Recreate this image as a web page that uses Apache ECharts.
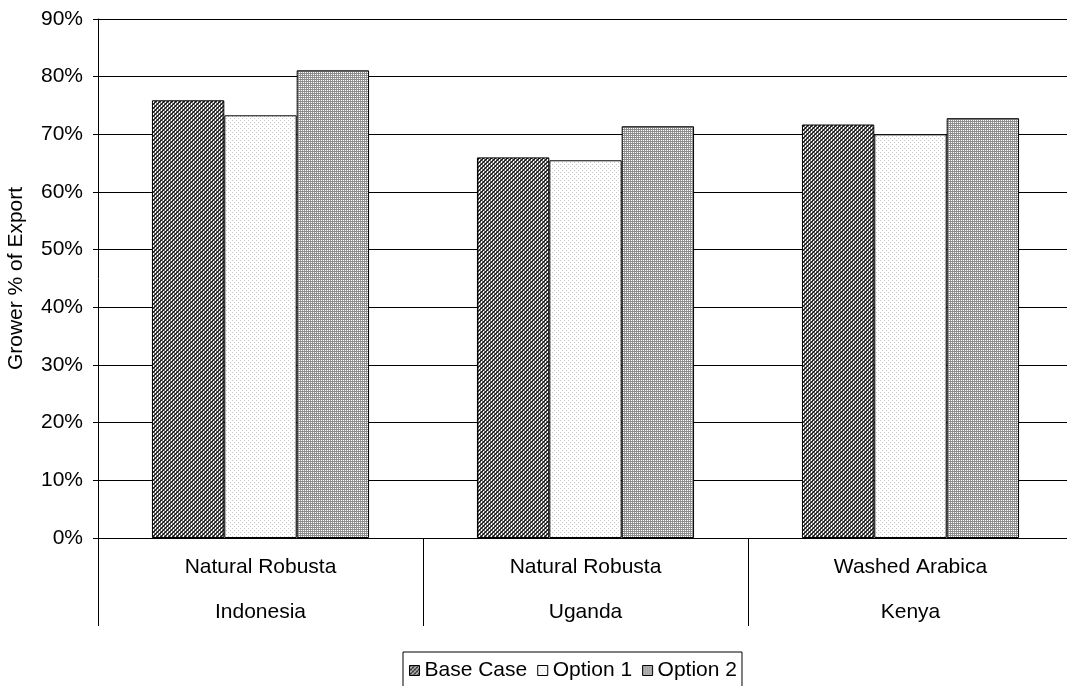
<!DOCTYPE html>
<html>
<head>
<meta charset="utf-8">
<script src="https://cdn.jsdelivr.net/npm/echarts@6/dist/echarts.min.js"></script>
<style>
  html, body { margin: 0; padding: 0; background: #fff; }
  #chart { width: 1067px; height: 686px; }
</style>
</head>
<body>
<div id="chart"></div>
<script>
// Grower share of export price, by origin and coffee type
const countries = ['Indonesia', 'Uganda', 'Kenya'];
const coffeeTypes = ['Natural Robusta', 'Natural Robusta', 'Washed Arabica'];
const seriesNames = ['Base Case', 'Option 1', 'Option 2'];
const baseCase = [75.9, 66.0, 71.7];
const option1 = [73.3, 65.5, 70.0];
const option2 = [81.1, 71.4, 72.8];
const yTicks = { min: 0, max: 90, interval: 10 };

const FONT = '"Liberation Sans", Arial, sans-serif';
const FS = 21;

// Small repeating fills in the style of old office-chart patterns
function tile(size, paint) {
  const c = document.createElement('canvas');
  c.width = c.height = size;
  const ctx = c.getContext('2d');
  ctx.fillStyle = '#fff';
  ctx.fillRect(0, 0, size, size);
  for (let y = 0; y < size; y++) {
    for (let x = 0; x < size; x++) {
      const col = paint(x, y);
      if (col) { ctx.fillStyle = col; ctx.fillRect(x, y, 1, 1); }
    }
  }
  return { image: c, repeat: 'repeat' };
}

// dense "/" hatching
const hatch = tile(4, (x, y) => ((x + y) % 4 < 2 ? '#2a2a2a' : (x % 2 === 0 ? '#8a8a8a' : null)));
// sparse light dots
const dots = tile(4, (x, y) => ((x % 4 === 0 && y % 4 === 0) || (x % 4 === 2 && y % 4 === 2) ? '#c4c4c4' : null));
// grey weave
const weave = tile(4, (x, y) => {
  if (y % 2 === 1) return '#8a8a8a';
  return x % 2 === 0 ? '#9a9a9a' : null;
});

const fills = [hatch, dots, weave];
const values = [baseCase, option1, option2];

const chart = echarts.init(document.getElementById('chart'), null, { renderer: 'canvas' });

chart.setOption({
  animation: false,
  backgroundColor: '#fff',
  textStyle: { fontFamily: FONT, color: '#000' },
  grid: {
    left: 98, top: 19, right: -6, bottom: 148,
    containLabel: false,
    outerBoundsMode: 'none'
  },
  legend: {
    left: 403,
    top: 652,
    orient: 'horizontal',
    itemWidth: 10,
    itemHeight: 10,
    itemGap: 10,
    padding: [8, 5, 30, 6],
    borderColor: '#000',
    borderWidth: 1,
    backgroundColor: '#fff',
    icon: 'rect',
    itemStyle: { borderColor: '#000', borderWidth: 1 },
    textStyle: { fontFamily: FONT, fontSize: FS, color: '#000' },
    data: seriesNames
  },
  xAxis: {
    type: 'category',
    data: countries,
    axisLine: { show: true, lineStyle: { color: '#000', width: 1 } },
    axisTick: {
      show: true,
      alignWithLabel: false,
      interval: 0,
      length: 88,
      lineStyle: { color: '#000', width: 1 }
    },
    axisLabel: {
      interval: 0,
      margin: 7,
      fontFamily: FONT,
      fontSize: FS,
      color: '#000',
      lineHeight: 45,
      formatter: (v, i) => coffeeTypes[i] + '\n' + v
    },
    splitLine: { show: false }
  },
  yAxis: {
    type: 'value',
    min: yTicks.min,
    max: yTicks.max,
    interval: yTicks.interval,
    name: 'Grower % of Export',
    nameLocation: 'middle',
    nameGap: 71,
    nameTextStyle: { fontFamily: FONT, fontSize: FS, color: '#000' },
    axisLine: { show: true, lineStyle: { color: '#000', width: 1 } },
    axisTick: { show: true, length: 5, lineStyle: { color: '#000', width: 1 } },
    axisLabel: {
      margin: 15,
      fontFamily: FONT,
      fontSize: FS,
      color: '#000',
      formatter: '{value}%'
    },
    splitLine: { show: true, lineStyle: { color: '#000', width: 1 } }
  },
  series: seriesNames.map((name, k) => ({
    name,
    type: 'bar',
    data: values[k],
    barGap: '0%',
    barCategoryGap: '33.2%',
    itemStyle: { color: fills[k], borderColor: '#000', borderWidth: 1 },
    emphasis: { disabled: true }
  }))
});
</script>
</body>
</html>
